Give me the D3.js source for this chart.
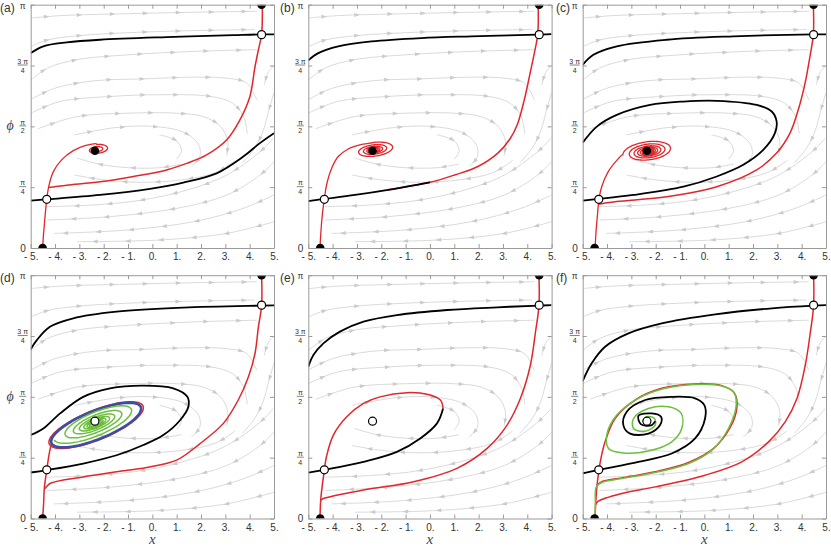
<!DOCTYPE html>
<html><head><meta charset="utf-8">
<script src="https://cdn.jsdelivr.net/npm/d3@7"></script>
<style>body{margin:0;background:#fff}</style>
</head><body><svg id="c" width="831" height="546"></svg>
<script>
// ---------- data (x, phi/π) ----------
const xTicks=[-5,-4,-3,-2,-1,0,1,2,3,4,5];
const xTickLabels=["- 5.","- 4.","- 3.","- 2.","- 1.","0.","1.","2.","3.","4.","5."];
const yTicks=[0,0.25,0.5,0.75,1];
const yTickLabels=[["0"],["π","4"],["π","2"],["3 π","4"],["π"]];
const panelLabels=["(a)","(b)","(c)","(d)","(e)","(f)"];
const lowerSaddle=[-4.34,0.2], upperSaddle=[4.49,0.877];
const lowerNode=[-4.51,0], upperNode=[4.49,1];
const focusPt=[-2.36,0.40];
const focusStable=[true,true,true,false,false,false];

// shared gray streamlines
const streams=[
 [[-5,0.945],[-3.8,0.955],[-1,0.963],[1.7,0.969],[4.3,0.973]],
 [[-4.95,0.83],[-4.3,0.855],[-3,0.873],[-1,0.885],[1.5,0.893],[4.2,0.898]],
 [[-5,0.69],[-4.3,0.74],[-3.1,0.774],[-1,0.794],[1.7,0.808],[4.3,0.815]],
 [[-5,0.61],[-4,0.657],[-2.4,0.687],[-0.4,0.695],[1.7,0.702],[3.06,0.698],[3.88,0.678],[4.29,0.609]],
 [[-5,0.554],[-3.8,0.602],[-1.7,0.623],[0.3,0.63],[2.4,0.623],[3.3,0.595],[3.75,0.54],[3.9,0.47]],
 [[-4.7,0.49],[-3.1,0.54],[-1,0.554],[1,0.554],[2.1,0.54],[2.8,0.5],[3.1,0.44],[3.05,0.38]],
 [[-3.2,0.465],[-1.5,0.495],[0,0.5],[1.3,0.475],[1.9,0.425],[1.95,0.375],[1.6,0.335]],
 [[0.3,0.465],[1.0,0.44],[1.2,0.40],[1.0,0.365]],
 [[3.4,0.36],[2.6,0.31],[1.2,0.28],[-0.4,0.27],[-2,0.28],[-3.2,0.3]],
 [[1.2,0.345],[0.3,0.33],[-1,0.33],[-2.2,0.345],[-3.1,0.37]],
 [[5,0.75],[4.75,0.72],[4.6,0.67]],
 [[5,0.64],[4.8,0.57],[4.55,0.48],[4.2,0.41],[3.7,0.35]],
 [[4.97,0.451],[4.43,0.396],[3.06,0.30],[1.69,0.246],[-0.36,0.198],[-2.4,0.177],[-4.32,0.17]],
 [[5,0.355],[4.43,0.30],[3.06,0.218],[1.01,0.163],[-1.72,0.129],[-4.32,0.115]],
 [[5,0.218],[3.74,0.163],[1.69,0.108],[-1.04,0.074],[-4.04,0.06]],
 [[5,0.108],[3.06,0.06],[0.33,0.033],[-3.09,0.026]]
];

// panel (a)
const upperBlackA=[[-5,0.801],[-4.48,0.829],[-3.52,0.845],[-2.15,0.856],[0.59,0.867],[3.33,0.875],[4.49,0.878],[5,0.878]];
const lowerBlackA=[[-5,0.195],[-4.34,0.2],[-2.15,0.218],[-0.10,0.243],[1.27,0.269],[2.64,0.307],[3.74,0.376],[4.42,0.431],[5,0.472]];
const redUpA=[[-4.51,0],[-4.47,0.06],[-4.41,0.13],[-4.34,0.2],[-4.26,0.252],[-4.07,0.314],[-3.73,0.362],[-3.25,0.40],[-2.77,0.421],[-2.29,0.428]];
const redRightA=[[4.52,1.0],[4.49,0.878],[4.36,0.815],[4.22,0.746],[4.01,0.623],[3.60,0.527],[3.05,0.444],[2.23,0.383],[1.41,0.348],[0.59,0.321],[-0.78,0.294],[-2.15,0.272],[-3.52,0.258],[-4.18,0.25],[-4.27,0.25]];
const spiralA={cx:-2.27,cf:0.405,a:0.5,b:0.021,tilt:-6,start:-Math.PI/2,turns:2,end:0.3};

// panel (b)
const upperBlackB=[[-5,0.771],[-4.59,0.801],[-3.77,0.829],[-2.40,0.849],[-0.36,0.863],[1.69,0.87],[4.43,0.877],[5,0.879]];
const lowerBlackB=[[-5,0.193],[-4.34,0.2016],[-3.08,0.218],[-1.72,0.239],[0,0.27]];
const redRightB=[[4.45,1.0],[4.43,0.877],[4.32,0.815],[4.12,0.72],[3.88,0.61],[3.6,0.51],[3.3,0.45],[2.79,0.39],[1.97,0.335],[1.01,0.30],[0,0.27],[-1.72,0.239]];
const redUpB=[[-4.52,0],[-4.48,0.07],[-4.42,0.14],[-4.34,0.2016],[-4.25,0.259],[-4.04,0.328],[-3.77,0.376],[-3.36,0.407],[-2.88,0.424],[-2.35,0.433]];
const spiralB={cx:-2.3,cf:0.403,a:0.85,b:0.031,tilt:-8,start:-Math.PI/2,turns:5,end:0.15};

// panel (c)
const upperBlackC=[[-5,0.753],[-4.56,0.794],[-3.60,0.829],[-1.55,0.856],[1.19,0.870],[4.48,0.878],[5,0.878]];
const lowerBlackC=[[-5,0.195],[-4.33,0.2016],[-2.92,0.218],[-0.86,0.252],[0.51,0.294],[1.60,0.342],[2.42,0.403],[2.90,0.472],[2.97,0.52],[2.77,0.561],[2.15,0.588],[0.51,0.605],[-0.86,0.602],[-2.23,0.588],[-3.60,0.547],[-4.42,0.499],[-5,0.433]];
const redRightC=[[4.48,1.0],[4.48,0.878],[4.34,0.787],[4.14,0.678],[3.86,0.568],[3.52,0.472],[2.97,0.39],[2.15,0.321],[0.51,0.252],[-1.55,0.211],[-3.60,0.191],[-4.29,0.181],[-4.33,0.18]];
const redUpC=[[-4.49,0],[-4.45,0.07],[-4.39,0.14],[-4.33,0.2016],[-4.22,0.252],[-3.95,0.314],[-3.6,0.36],[-3.35,0.385]];
const spiralC={cx:-2.3,cf:0.397,a:1.06,b:0.043,tilt:-8,start:Math.PI,turns:8,end:0.1};

// panel (d)
const upperBlackD=[[-5,0.695],[-4.75,0.733],[-4.21,0.788],[-3.25,0.823],[-1.47,0.85],[1.27,0.867],[4.49,0.875],[5,0.876]];
const lowerBlackD=[[-5,0.189],[-4.34,0.199],[-2.84,0.226],[-1.47,0.26],[-0.37,0.302],[0.45,0.343],[1.14,0.404],[1.48,0.459],[1.44,0.50],[0.86,0.535],[-0.37,0.546],[-1.74,0.535],[-2.84,0.50],[-3.79,0.432],[-4.48,0.37],[-5,0.343]];
const redRightD=[[4.49,1.0],[4.49,0.875],[4.36,0.789],[4.22,0.679],[3.95,0.583],[3.53,0.487],[2.92,0.391],[1.96,0.308],[1.0,0.24],[-0.23,0.21],[-1.47,0.192],[-2.84,0.171],[-4.21,0.144],[-4.41,0.124],[-4.44,0.124]];
const redUpD=[[-4.51,0],[-4.47,0.06],[-4.44,0.124],[-4.34,0.199],[-4.25,0.26],[-4.15,0.31]];
const cycleD={cx:-2.31,cf:0.384,a:1.98,b:0.058,tilt:-22};
const greenD={cx:-2.33,cf:0.392,a:0.2,b:0.006,tilt:-22,start:Math.PI,turns:7,end:9.2};

// panel (e)
const upperBlackE=[[-5,0.624],[-4.79,0.672],[-4.38,0.72],[-3.70,0.768],[-2.73,0.809],[-1.36,0.836],[0.70,0.857],[2.76,0.868],[4.48,0.875],[5,0.877]];
const lowerBlackE=[[-5,0.189],[-4.34,0.2],[-2.73,0.233],[-1.36,0.274],[-0.40,0.329],[0.29,0.391],[0.54,0.452]];
const redLoopE=[[-4.34,0.2],[-4.24,0.26],[-3.97,0.343],[-3.42,0.418],[-2.73,0.473],[-2.05,0.50],[-0.95,0.517],[-0.12,0.511],[0.43,0.487],[0.54,0.452]];
const redRightE=[[4.48,1.0],[4.48,0.875],[4.34,0.768],[4.13,0.631],[3.72,0.494],[3.17,0.384],[2.35,0.288],[1.11,0.206],[-0.67,0.151],[-2.73,0.117],[-4.38,0.082],[-4.49,0.075]];
const redUpE=[[-4.52,0],[-4.49,0.075],[-4.42,0.14],[-4.34,0.2]];

// panel (f)
const upperBlackF=[[-5,0.565],[-4.63,0.638],[-4.08,0.706],[-3.12,0.761],[-1.75,0.802],[0.45,0.839],[2.78,0.864],[4.49,0.875],[5,0.877]];
const blackSpiralF=[[-5,0.185],[-4.33,0.2],[-2.71,0.233],[-1.34,0.267],[-0.38,0.329],[0.03,0.411],[0.0,0.466],[-0.38,0.494],[-1.34,0.50],[-2.43,0.487],[-3.19,0.439],[-3.33,0.384],[-3.05,0.349],[-2.30,0.349],[-1.82,0.384],[-1.78,0.418],[-2.16,0.432],[-2.71,0.422],[-2.60,0.387],[-2.16,0.384],[-2.02,0.40]];
const redLoopF=[[-4.33,0.2],[-4.25,0.247],[-4.08,0.315],[-3.67,0.411],[-2.85,0.487],[-1.75,0.535],[-0.38,0.553],[0.72,0.546],[1.24,0.514],[1.34,0.459],[1.06,0.374],[0.38,0.288],[-0.65,0.23],[-2.02,0.192],[-3.40,0.167],[-4.22,0.151],[-4.41,0.137]];
const redRightF=[[4.49,1.0],[4.49,0.875],[4.36,0.768],[4.15,0.631],[3.81,0.494],[3.33,0.398],[2.64,0.315],[1.54,0.233],[0.03,0.178],[-2.02,0.13],[-3.39,0.103],[-4.36,0.071],[-4.47,0.057]];
const redUpF=[[-4.49,0],[-4.47,0.057],[-4.41,0.137],[-4.33,0.2]];
const greenF=[[-4.49,0],[-4.48,0.055],[-4.44,0.13],[-4.22,0.148],[-3.40,0.164],[-2.02,0.189],[-0.65,0.226],[0.31,0.281],[0.99,0.37],[1.31,0.466],[1.20,0.521],[0.72,0.545],[-0.38,0.551],[-1.61,0.535],[-2.71,0.494],[-3.60,0.425],[-4.01,0.343],[-3.94,0.288],[-3.40,0.27],[-2.30,0.277],[-1.34,0.315],[-0.93,0.37],[-0.95,0.432],[-1.47,0.459],[-2.30,0.452],[-2.91,0.411],[-2.91,0.37],[-2.43,0.359],[-2.02,0.384],[-2.05,0.411],[-2.37,0.418],[-2.54,0.40]];

// ---------- drawing ----------
const colX=[30.7,308.3,582.7], rowY=[4.7,275.2], PW=243.3, PH=243.3;
const RED="#e3262b", BLACK="#000", GREEN="#6cbf3c", BLUE="#3a4fa3";
const svg=d3.select("#c");
const FONT="'Liberation Sans', Arial, sans-serif";

const panels=[
 {upper:upperBlackA, lower:lowerBlackA, reds:[redRightA], redSp:[redUpA,spiralA]},
 {upper:upperBlackB, lower:null, reds:[redRightB], redSp:[redUpB,spiralB], lowerAfter:lowerBlackB},
 {upper:upperBlackC, lower:lowerBlackC, reds:[redRightC], redSp:[redUpC,spiralC]},
 {upper:upperBlackD, lower:lowerBlackD, reds:[redRightD,redUpD], cycle:cycleD, green:greenD},
 {upper:upperBlackE, lower:lowerBlackE, reds:[redRightE,redUpE,redLoopE]},
 {upper:upperBlackF, lower:blackSpiralF, reds:[redRightF,redUpF,redLoopF], greenPts:greenF}
];

function spiralPts(s,xs,ys,extra){
  const cx=xs(s.cx), cy=ys(s.cf);
  const ax=s.a*PW/10, by=s.b*PH, th=s.tilt*Math.PI/180;
  const turns=s.turns||1, end=s.end||1, start=s.start||0;
  const n=Math.round(turns*90), pts=[];
  for(let i=0;i<=n;i++){
    const t=i/n, ang=start+t*turns*2*Math.PI, k=Math.pow(end,t)*(extra||1);
    const lx=ax*k*Math.cos(ang), ly=by*k*Math.sin(ang);
    pts.push([cx+lx*Math.cos(th)-ly*Math.sin(th), cy+lx*Math.sin(th)+ly*Math.cos(th)]);
  }
  return pts;
}

panels.forEach((P,i)=>{
  const c=i%3, r=Math.floor(i/3);
  const x0=colX[c], y0=rowY[r];
  const xs=d3.scaleLinear().domain([-5,5]).range([x0,x0+PW]);
  const ys=d3.scaleLinear().domain([0,1]).range([y0+PH,y0]);
  const g=svg.append("g");
  const cid="clip"+i;
  svg.append("defs").append("clipPath").attr("id",cid).append("rect")
    .attr("x",x0).attr("y",y0).attr("width",PW).attr("height",PH);
  const plot=g.append("g").attr("clip-path",`url(#${cid})`);
  const line=d3.line().x(d=>xs(d[0])).y(d=>ys(d[1])).curve(d3.curveCatmullRom.alpha(0.5));
  const sline=d3.line().curve(d3.curveLinear);

  // streamlines
  const sg=plot.append("g");
  streams.forEach(s=>{
    const p=sg.append("path").attr("d",line(s)).attr("fill","none").attr("stroke","#dadada").attr("stroke-width",1);
    const node=p.node(), L=node.getTotalLength();
    for(let d=16; d<L-4; d+=33){
      const a=node.getPointAtLength(d), b=node.getPointAtLength(Math.min(d+1,L));
      const ang=Math.atan2(b.y-a.y,b.x-a.x)*180/Math.PI;
      sg.append("path").attr("d","M-2.8,-2L2.8,0L-2.8,2Z").attr("fill","#cbcbcb")
        .attr("transform",`translate(${a.x},${a.y}) rotate(${ang})`);
    }
  });

  // red curves
  P.reds.forEach(rr=>plot.append("path").attr("d",line(rr)).attr("fill","none").attr("stroke",RED).attr("stroke-width",1.5));
  if(P.redSp){
    const pts=P.redSp[0].map(d=>[xs(d[0]),ys(d[1])]).concat(spiralPts(P.redSp[1],xs,ys));
    plot.append("path").attr("d",d3.line().curve(d3.curveCatmullRom.alpha(0.5))(pts)).attr("fill","none").attr("stroke",RED).attr("stroke-width",1.3);
  }
  if(P.cycle){
    const red=spiralPts(Object.assign({},P.cycle,{start:Math.PI,turns:1,end:1}),xs,ys,1.05);
    plot.append("path").attr("d",sline(red)+"Z").attr("fill","none").attr("stroke",RED).attr("stroke-width",1.5);
    const blue=spiralPts(Object.assign({},P.cycle,{turns:1,end:1}),xs,ys);
    plot.append("path").attr("d",sline(blue)+"Z").attr("fill","none").attr("stroke",BLUE).attr("stroke-width",2.6);
    const gr=spiralPts(P.green,xs,ys);
    plot.append("path").attr("d",sline(gr)).attr("fill","none").attr("stroke",GREEN).attr("stroke-width",1.5);
  }
  if(P.greenPts){
    plot.append("path").attr("d",line(P.greenPts)).attr("fill","none").attr("stroke",GREEN).attr("stroke-width",1.5);
  }
  // black separatrices
  plot.append("path").attr("d",line(P.upper)).attr("fill","none").attr("stroke",BLACK).attr("stroke-width",1.8);
  if(P.lower) plot.append("path").attr("d",line(P.lower)).attr("fill","none").attr("stroke",BLACK).attr("stroke-width",1.8);
  if(P.lowerAfter) plot.append("path").attr("d",line(P.lowerAfter)).attr("fill","none").attr("stroke",BLACK).attr("stroke-width",1.8);

  // fixed points
  [lowerNode,upperNode].forEach(p=>plot.append("circle").attr("cx",xs(p[0])).attr("cy",ys(p[1])).attr("r",4.3).attr("fill","#000"));
  [lowerSaddle,upperSaddle].forEach(p=>plot.append("circle").attr("cx",xs(p[0])).attr("cy",ys(p[1])).attr("r",4).attr("fill","#fff").attr("stroke","#000").attr("stroke-width",1.2));
  if(focusStable[i]) plot.append("circle").attr("cx",xs(focusPt[0])).attr("cy",ys(focusPt[1])).attr("r",4.3).attr("fill","#000");
  else plot.append("circle").attr("cx",xs(focusPt[0])).attr("cy",ys(focusPt[1])).attr("r",4).attr("fill","#fff").attr("stroke","#000").attr("stroke-width",1.2);

  // axes / frame
  const styleAx=sel=>{sel.selectAll("path.domain").attr("stroke","#9a9a9a");sel.selectAll(".tick line").attr("stroke","#9a9a9a");};
  const bx=g.append("g").attr("transform",`translate(0,${y0+PH})`)
    .call(d3.axisBottom(xs).tickValues(xTicks).tickSize(-4).tickSizeOuter(0).tickPadding(5).tickFormat((d,k)=>xTickLabels[k]));
  bx.selectAll("text").attr("font-family",FONT).attr("font-size",10).attr("fill","#333");
  styleAx(bx);
  const tx=g.append("g").attr("transform",`translate(0,${y0})`)
    .call(d3.axisTop(xs).tickValues(xTicks).tickSize(-4).tickSizeOuter(0).tickFormat(""));
  styleAx(tx);
  const ly=g.append("g").attr("transform",`translate(${x0},0)`)
    .call(d3.axisLeft(ys).tickValues(yTicks).tickSize(-4).tickSizeOuter(0).tickFormat(""));
  styleAx(ly);
  const ry=g.append("g").attr("transform",`translate(${x0+PW},0)`)
    .call(d3.axisRight(ys).tickValues(yTicks).tickSize(-4).tickSizeOuter(0).tickFormat(""));
  styleAx(ry);

  // y tick labels (fractions of π)
  yTicks.forEach((v,k)=>{
    const lab=yTickLabels[k], yy=ys(v);
    if(lab.length===1){
      g.append("text").attr("x",x0-5).attr("y",yy+(v===1?4:3.5)).attr("text-anchor","end")
        .attr("font-family",FONT).attr("font-size",v===1?8.5:10).attr("fill","#333").text(lab[0]);
    } else {
      const cxp=x0-8;
      g.append("text").attr("x",cxp).attr("y",yy-1.8).attr("text-anchor","middle")
        .attr("font-family",FONT).attr("font-size",7).attr("fill","#333").text(lab[0]);
      g.append("line").attr("x1",cxp-(lab[0].length>1?5:3.5)).attr("x2",cxp+(lab[0].length>1?5:3.5))
        .attr("y1",yy-0.5).attr("y2",yy-0.5).attr("stroke","#333").attr("stroke-width",0.6);
      g.append("text").attr("x",cxp).attr("y",yy+7).attr("text-anchor","middle")
        .attr("font-family",FONT).attr("font-size",7).attr("fill","#333").text(lab[1]);
    }
  });

  // panel label
  const lx=[0,280,556][c], lyy=[12,282][r];
  g.append("text").attr("x",lx).attr("y",lyy).attr("font-family",FONT).attr("font-size",12).attr("fill","#333").text(panelLabels[i]);

  if(c===0){
    g.append("text").attr("x",10).attr("y",y0+PH*0.5+4).attr("text-anchor","middle")
      .attr("font-family","'Liberation Serif', serif").attr("font-style","italic").attr("font-size",14).attr("fill","#444").text("ϕ");
  }
  if(r===1){
    g.append("text").attr("x",x0+PW/2).attr("y",544).attr("text-anchor","middle")
      .attr("font-family","'Liberation Serif', serif").attr("font-style","italic").attr("font-size",15).attr("fill","#444").text("x");
  }
});
</script></body></html>
